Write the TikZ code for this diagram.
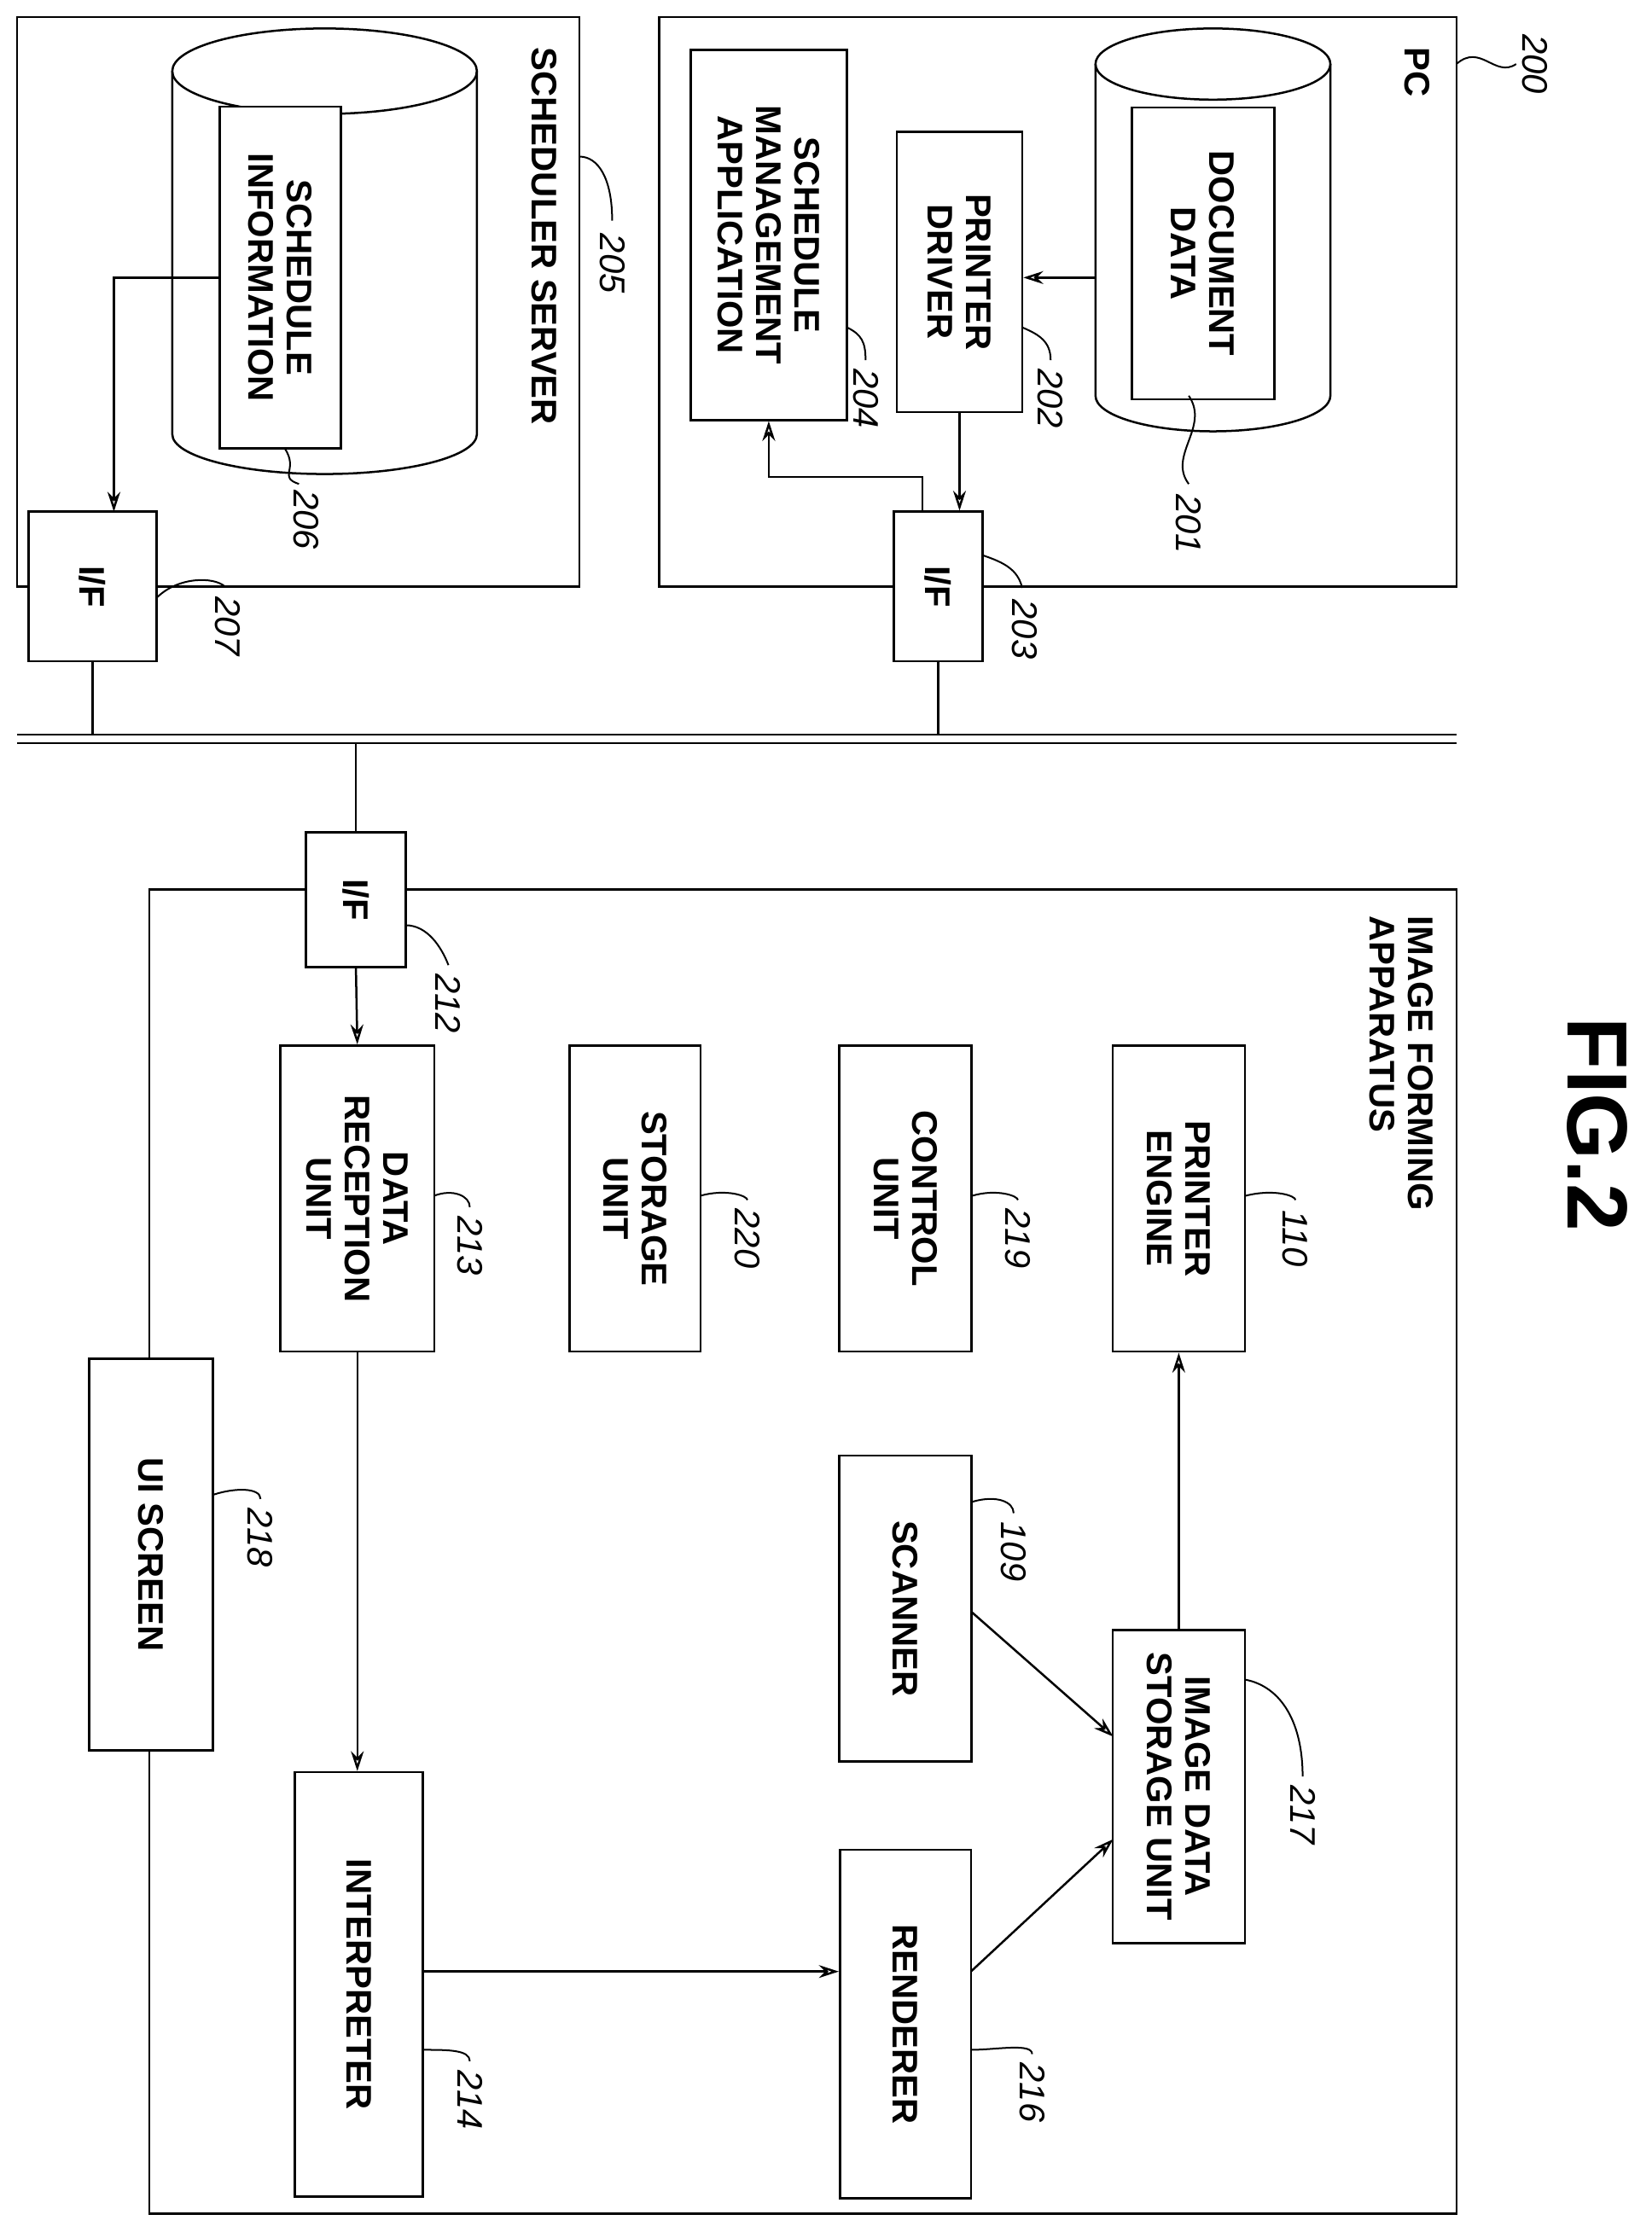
\documentclass[tikz,border=0pt]{standalone}
\usepackage{fontspec}
\setmainfont{Liberation Sans}
\usetikzlibrary{arrows.meta}
\begin{document}
\begin{tikzpicture}[x=1pt,y=-1pt,
 box/.style={draw,line width=1.6pt,fill=white},
 txt/.style={rotate=-90,align=center,font=\fontsize{25}{27}\selectfont\bfseries},
 num/.style={rotate=-90,font=\fontsize{25}{27}\selectfont\itshape},
 ln/.style={line width=1.5pt},
 arr/.style={ln,-{Stealth[length=14pt,width=9pt,open]}},
 lead/.style={line width=1.2pt}]
\useasboundingbox (0,0) rectangle (1160,1568);
% frames
\draw[ln] (463,12) rectangle (1023,412);
\draw[ln] (12,12) rectangle (407,412);
\draw[ln] (105,625) rectangle (1023,1555);
\node[txt,anchor=north west] (pcl) at (1008,30) {PC};
\node[txt,anchor=north west] (ssl) at (395,30) {SCHEDULER SERVER};
\node[txt,anchor=north west,align=left] (ifal) at (1010,640) {IMAGE FORMING\\APPARATUS};
\node[rotate=-90,font=\fontsize{60}{60}\selectfont\bfseries] (fig) at (1122,790) {FIG.2};
% bus
\coordinate (busA) at (0,516);
\coordinate (busB) at (0,522);
\draw[line width=1.3pt] (12,516) -- (1023,516) (12,522) -- (1023,522);
% cylinders
\draw[ln] (852,45) ellipse[x radius=82.5,y radius=25];
\draw[ln] (769.5,45) -- (769.5,278) arc[start angle=180,end angle=0,x radius=82.5,y radius=25] -- (934.5,45);
\node[box,txt,minimum width=205,minimum height=100] (dd) at (845,178) {DOCUMENT\\DATA};
\draw[ln] (228,50) ellipse[x radius=107,y radius=30];
\draw[ln] (121,50) -- (121,305) arc[start angle=180,end angle=0,x radius=107,y radius=28] -- (335,50);
\node[box,txt,minimum width=240,minimum height=85] (si) at (197,195) {SCHEDULE\\INFORMATION};
% PC boxes
\node[box,txt,minimum width=197,minimum height=88] (pd) at (674,191) {PRINTER\\DRIVER};
\node[box,txt,minimum width=260,minimum height=110] (sma) at (540,165) {SCHEDULE\\MANAGEMENT\\APPLICATION};
\node[box,txt,minimum width=105,minimum height=62] (if203) at (659,412) {I/F};
\node[box,txt,minimum width=105,minimum height=90] (if207) at (65,412) {I/F};
\node[box,txt,minimum width=95,minimum height=70] (if212) at (250,632) {I/F};
% apparatus boxes
\node[box,txt,minimum width=215,minimum height=108] (dru) at (251,842) {DATA\\RECEPTION\\UNIT};
\node[box,txt,minimum width=215,minimum height=92] (su) at (446,842) {STORAGE\\UNIT};
\node[box,txt,minimum width=215,minimum height=93] (cu) at (636,842) {CONTROL\\UNIT};
\node[box,txt,minimum width=215,minimum height=93] (pe) at (828,842) {PRINTER\\ENGINE};
\node[box,txt,minimum width=275,minimum height=87] (ui) at (106,1092) {UI SCREEN};
\node[box,txt,minimum width=215,minimum height=93] (sc) at (636,1130) {SCANNER};
\node[box,txt,minimum width=220,minimum height=93] (ids) at (828,1255) {IMAGE DATA\\STORAGE UNIT};
\node[box,txt,minimum width=298,minimum height=90] (ip) at (252,1394) {INTERPRETER};
\node[box,txt,minimum width=245,minimum height=92] (rd) at (636,1422) {RENDERER};
% connections
\draw[ln] (if203.east) -- (if203.east|-busA);
\draw[ln] (if207.east) -- (if207.east|-busA);
\draw[ln] (if212.west) -- (if212.west|-busB);
\draw[arr] (769.5,195) -- (pd.north|-{(0,195)});
\draw[arr] (pd.east) -- (if203.west-|pd.east);
\draw[arr] (648,359.5) -- (648,335) -- (540,335) -- (sma.east);
\draw[arr] (si.south) -- (80,195) -- (80,359.5);
\draw[arr] (if212.east) -- (dru.west);
\draw[arr] (dru.east) -- (ip.west-|dru.east);
\draw[arr] (ip.north|-{(0,1385)}) -- (rd.south|-{(0,1385)});
\draw[arr] (682,1385) -- (782,1292);
\draw[arr] (682,1132) -- (782,1220);
\draw[arr] (ids.west) -- (pe.east);
% numbers
\node[num] (n200) at (1078,45) {200};
\draw[lead] (1023,45) .. controls (1040,30) and (1050,55) .. (1065,45);
\node[num] (n201) at (835,368) {201};
\draw[lead] (835,278) .. controls (850,300) and (820,320) .. (835,340);
\node[num] (n202) at (738,280) {202};
\draw[lead] (718,230) .. controls (730,235) and (738,240) .. (738,253);
\node[num] (n204) at (608,280) {204};
\draw[lead] (595,230) .. controls (605,235) and (608,240) .. (608,253);
\node[num] (n203) at (720,442) {203};
\draw[lead] (690,390) .. controls (705,395) and (715,400) .. (718,413);
\node[num] (n205) at (430,185) {205};
\draw[lead] (407,110) .. controls (420,110) and (430,125) .. (430,155);
\node[num] (n206) at (215,365) {206};
\draw[lead] (200,315) .. controls (210,330) and (195,335) .. (210,340);
\node[num] (n207) at (160,440) {207};
\draw[lead] (110,420) .. controls (125,405) and (150,405) .. (158,412);
\node[num] (n212) at (315,705) {212};
\draw[lead] (285,650) .. controls (300,650) and (310,665) .. (315,678);
\node[num] (n213) at (330,875) {213};
\draw[lead] (305,840) .. controls (318,835) and (330,840) .. (330,848);
\node[num] (n220) at (525,870) {220};
\draw[lead] (492,840) .. controls (510,835) and (525,840) .. (525,843);
\node[num] (n219) at (715,870) {219};
\draw[lead] (683,840) .. controls (700,835) and (715,840) .. (715,843);
\node[num] (n110) at (910,870) {110};
\draw[lead] (875,840) .. controls (895,835) and (910,840) .. (910,843);
\node[num] (n218) at (183,1080) {218};
\draw[lead] (150,1050) .. controls (165,1045) and (183,1045) .. (183,1053);
\node[num] (n109) at (712,1090) {109};
\draw[lead] (683,1055) .. controls (700,1050) and (712,1055) .. (712,1063);
\node[num] (n217) at (915,1275) {217};
\draw[lead] (875,1180) .. controls (900,1185) and (915,1210) .. (915,1248);
\node[num] (n214) at (330,1475) {214};
\draw[lead] (297,1440) .. controls (315,1440) and (330,1440) .. (330,1448);
\node[num] (n216) at (725,1470) {216};
\draw[lead] (682,1440) .. controls (700,1440) and (725,1435) .. (725,1443);
\end{tikzpicture}
\end{document}
